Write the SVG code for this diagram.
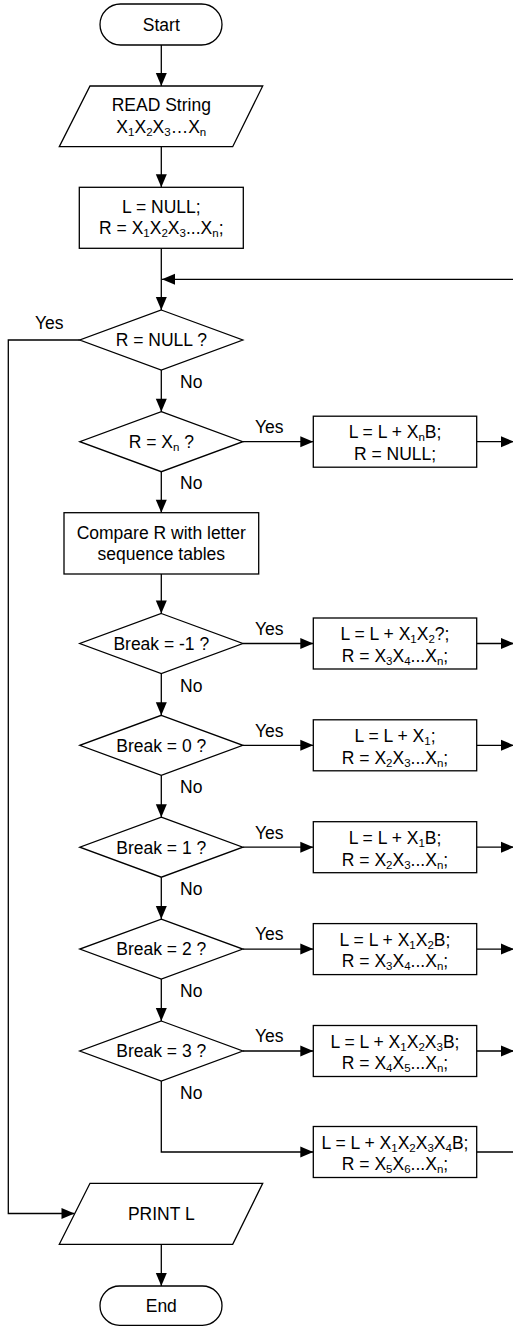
<svg xmlns="http://www.w3.org/2000/svg" width="513" height="1326" viewBox="0 0 513 1326">
<style>
.ln{fill:none;stroke:#000;stroke-width:1.3}
.sh{fill:#fff;stroke:#000;stroke-width:1.3}
text{font-family:"Liberation Sans",Arial,sans-serif;font-size:17.5px;fill:#000}
.c{text-anchor:middle}
.s{font-size:11.5px;baseline-shift:-2.5px}
</style>
<defs>
<marker id="ar" markerUnits="userSpaceOnUse" markerWidth="13" markerHeight="12" refX="13" refY="6" orient="auto" overflow="visible">
<path d="M0,0.5 L13,6 L0,11.5 z" fill="#000"/>
</marker>
</defs>
<rect width="513" height="1326" fill="#fff"/>
<g id="connectors">
<path class="ln" marker-end="url(#ar)" d="M161.3,45 V86"/>
<path class="ln" marker-end="url(#ar)" d="M161.3,146.7 V187.3"/>
<path class="ln" marker-end="url(#ar)" d="M161.3,248.3 V310"/>
<path class="ln" marker-end="url(#ar)" d="M513,279.3 H162"/>
<path class="ln" marker-end="url(#ar)" d="M79.8,340 H8.3 V1213.5 H74.5"/>
<path class="ln" marker-end="url(#ar)" d="M161.3,370 V411.7"/>
<path class="ln" marker-end="url(#ar)" d="M242.8,441.7 H313.3"/>
<path class="ln" marker-end="url(#ar)" d="M476.7,441.7 H514"/>
<path class="ln" marker-end="url(#ar)" d="M161.3,471.7 V512.7"/>
<path class="ln" marker-end="url(#ar)" d="M161.3,574 V613.5"/>
<path class="ln" marker-end="url(#ar)" d="M242.8,643.5 H313.3"/>
<path class="ln" marker-end="url(#ar)" d="M476.7,643.5 H514"/>
<path class="ln" marker-end="url(#ar)" d="M161.3,673.5 V715.3"/>
<path class="ln" marker-end="url(#ar)" d="M242.8,745.3 H313.3"/>
<path class="ln" marker-end="url(#ar)" d="M476.7,745.3 H514"/>
<path class="ln" marker-end="url(#ar)" d="M161.3,775.3 V817.2"/>
<path class="ln" marker-end="url(#ar)" d="M242.8,847.2 H313.3"/>
<path class="ln" marker-end="url(#ar)" d="M476.7,847.2 H514"/>
<path class="ln" marker-end="url(#ar)" d="M161.3,877.2 V919.1"/>
<path class="ln" marker-end="url(#ar)" d="M242.8,949.1 H313.3"/>
<path class="ln" marker-end="url(#ar)" d="M476.7,949.1 H514"/>
<path class="ln" marker-end="url(#ar)" d="M161.3,979.1 V1021"/>
<path class="ln" marker-end="url(#ar)" d="M242.8,1051 H313.3"/>
<path class="ln" marker-end="url(#ar)" d="M476.7,1051 H514"/>
<path class="ln" marker-end="url(#ar)" d="M161.3,1081 V1152 H313.3"/>
<path class="ln" d="M476.7,1152 H513"/>
<path class="ln" marker-end="url(#ar)" d="M161.3,1244.3 V1286"/>
<text x="35" y="329.3">Yes</text>
<text x="180" y="387.5">No</text>
<text x="255" y="433">Yes</text>
<text x="180" y="489.2">No</text>
<text x="255" y="634.8">Yes</text>
<text x="180" y="691.5">No</text>
<text x="255" y="736.6">Yes</text>
<text x="180" y="793.3">No</text>
<text x="255" y="838.5">Yes</text>
<text x="180" y="895.2">No</text>
<text x="255" y="940.4">Yes</text>
<text x="180" y="997.1">No</text>
<text x="255" y="1042.3">Yes</text>
<text x="180" y="1098.5">No</text>
</g>
<g id="start">
<rect class="sh" x="100" y="4" width="122" height="41" rx="20.5"/>
<text class="c" x="161.3" y="30.7">Start</text>
</g>
<g id="read">
<polygon class="sh" points="90,86 262.7,86 232.7,146.7 59.3,146.7"/>
<text class="c" x="161.3" y="111">READ String</text>
<text class="c" x="161.3" y="132.5">X<tspan class="s">1</tspan>X<tspan class="s">2</tspan>X<tspan class="s">3</tspan>…X<tspan class="s">n</tspan></text>
</g>
<g id="init">
<rect class="sh" x="79.3" y="187.3" width="164" height="61"/>
<text class="c" x="161.3" y="212.5">L = NULL;</text>
<text class="c" x="161.3" y="234.2">R = X<tspan class="s">1</tspan>X<tspan class="s">2</tspan>X<tspan class="s">3</tspan>...X<tspan class="s">n</tspan>;</text>
</g>
<g id="d-null">
<polygon class="sh" points="161.3,310 242.8,340 161.3,370 79.8,340"/>
<text class="c" x="161.3" y="346.3">R = NULL ?</text>
</g>
<g id="d-xn">
<polygon class="sh" points="161.3,411.7 242.8,441.7 161.3,471.7 79.8,441.7"/>
<text class="c" x="161.3" y="448">R = X<tspan class="s">n</tspan> ?</text>
</g>
<g id="r-xn">
<rect class="sh" x="313.3" y="416.2" width="163.4" height="51"/>
<text class="c" x="395" y="438.3">L = L + X<tspan class="s">n</tspan>B;</text>
<text class="c" x="395" y="460">R = NULL;</text>
</g>
<g id="compare">
<rect class="sh" x="64" y="512.7" width="194.7" height="61.3"/>
<text class="c" x="161.3" y="538.5">Compare R with letter</text>
<text class="c" x="161.3" y="560">sequence tables</text>
</g>
<g id="d-m1">
<polygon class="sh" points="161.3,613.5 242.8,643.5 161.3,673.5 79.8,643.5"/>
<text class="c" x="161.3" y="649.8">Break = -1 ?</text>
</g>
<g id="r-m1">
<rect class="sh" x="313.3" y="618" width="163.4" height="51"/>
<text class="c" x="395" y="640.1">L = L + X<tspan class="s">1</tspan>X<tspan class="s">2</tspan>?;</text>
<text class="c" x="395" y="661.8">R = X<tspan class="s">3</tspan>X<tspan class="s">4</tspan>...X<tspan class="s">n</tspan>;</text>
</g>
<g id="d-0">
<polygon class="sh" points="161.3,715.3 242.8,745.3 161.3,775.3 79.8,745.3"/>
<text class="c" x="161.3" y="751.6">Break = 0 ?</text>
</g>
<g id="r-0">
<rect class="sh" x="313.3" y="719.8" width="163.4" height="51"/>
<text class="c" x="395" y="741.9">L = L + X<tspan class="s">1</tspan>;</text>
<text class="c" x="395" y="763.6">R = X<tspan class="s">2</tspan>X<tspan class="s">3</tspan>...X<tspan class="s">n</tspan>;</text>
</g>
<g id="d-1">
<polygon class="sh" points="161.3,817.2 242.8,847.2 161.3,877.2 79.8,847.2"/>
<text class="c" x="161.3" y="853.5">Break = 1 ?</text>
</g>
<g id="r-1">
<rect class="sh" x="313.3" y="821.7" width="163.4" height="51"/>
<text class="c" x="395" y="843.8">L = L + X<tspan class="s">1</tspan>B;</text>
<text class="c" x="395" y="865.5">R = X<tspan class="s">2</tspan>X<tspan class="s">3</tspan>...X<tspan class="s">n</tspan>;</text>
</g>
<g id="d-2">
<polygon class="sh" points="161.3,919.1 242.8,949.1 161.3,979.1 79.8,949.1"/>
<text class="c" x="161.3" y="955.4">Break = 2 ?</text>
</g>
<g id="r-2">
<rect class="sh" x="313.3" y="923.6" width="163.4" height="51"/>
<text class="c" x="395" y="945.7">L = L + X<tspan class="s">1</tspan>X<tspan class="s">2</tspan>B;</text>
<text class="c" x="395" y="967.4">R = X<tspan class="s">3</tspan>X<tspan class="s">4</tspan>...X<tspan class="s">n</tspan>;</text>
</g>
<g id="d-3">
<polygon class="sh" points="161.3,1021 242.8,1051 161.3,1081 79.8,1051"/>
<text class="c" x="161.3" y="1057.3">Break = 3 ?</text>
</g>
<g id="r-3">
<rect class="sh" x="313.3" y="1025.5" width="163.4" height="51"/>
<text class="c" x="395" y="1047.6">L = L + X<tspan class="s">1</tspan>X<tspan class="s">2</tspan>X<tspan class="s">3</tspan>B;</text>
<text class="c" x="395" y="1069.3">R = X<tspan class="s">4</tspan>X<tspan class="s">5</tspan>...X<tspan class="s">n</tspan>;</text>
</g>
<g id="r-4">
<rect class="sh" x="313.3" y="1126.5" width="163.4" height="51"/>
<text class="c" x="395" y="1148.6">L = L + X<tspan class="s">1</tspan>X<tspan class="s">2</tspan>X<tspan class="s">3</tspan>X<tspan class="s">4</tspan>B;</text>
<text class="c" x="395" y="1170.3">R = X<tspan class="s">5</tspan>X<tspan class="s">6</tspan>...X<tspan class="s">n</tspan>;</text>
</g>
<g id="print">
<polygon class="sh" points="90,1183.3 262.7,1183.3 232.7,1244.3 59.3,1244.3"/>
<text class="c" x="161.3" y="1219.5">PRINT L</text>
</g>
<g id="end">
<rect class="sh" x="100" y="1286" width="122" height="39.3" rx="19.6"/>
<text class="c" x="161.3" y="1311.7">End</text>
</g>
</svg>
